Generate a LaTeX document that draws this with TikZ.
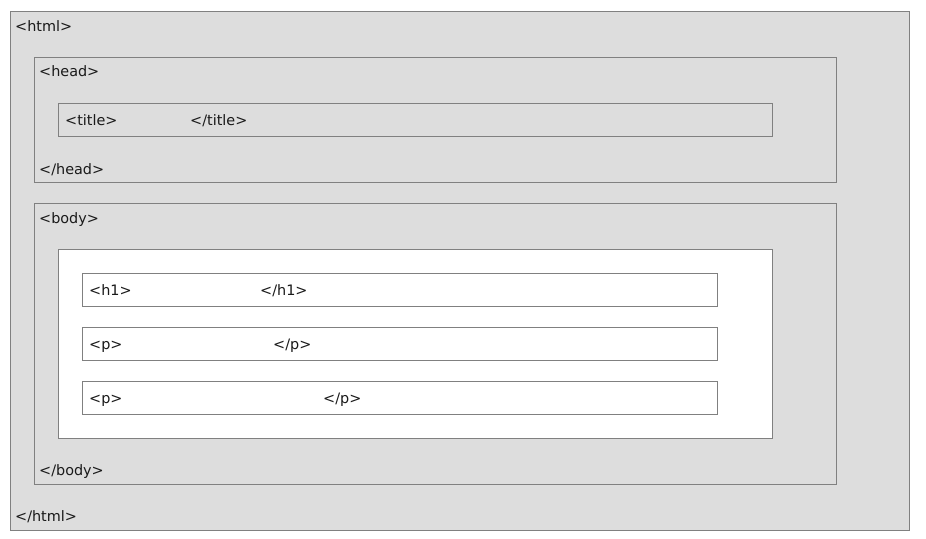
\documentclass[tikz,border=0pt]{standalone}
\usepackage{fontspec}
\setmainfont{DejaVu Sans}
\definecolor{tagfill}{HTML}{DDDDDD}
\definecolor{tagline}{HTML}{808080}
\definecolor{tagtext}{HTML}{1A1A1A}
\tikzset{
  tagbox/.style={draw=tagline, line width=1pt, fill=tagfill},
  innerbox/.style={draw=tagline, line width=1pt, fill=white},
  tag/.style={anchor=base west, inner sep=0pt, text=tagtext, font=\fontsize{14.4}{17}\selectfont}
}
\begin{document}
\begin{tikzpicture}[x=1pt, y=-1pt]

 \useasboundingbox (0,0) rectangle (926,538);

 % nested element boxes
 \draw[tagbox] (10.5,11) rectangle (909.5,530);
 \draw[tagbox] (34.5,57) rectangle (836.5,182);
 \draw[tagbox] (58.5,103) rectangle (772.5,136);
 \draw[tagbox] (34.5,203) rectangle (836.5,484);
 \draw[innerbox] (58.5,249) rectangle (772.5,438);
 \foreach \t in {273,327,381}{%
   \draw[innerbox] (82.5,\t) rectangle (717.5,\t+33);
 }

 % tags
 \node[tag] (htmlo) at (15,31) {<html>};
 \node[tag] (heado) at (39,76) {<head>};
 \node[tag] (titleo) at (65,125) {<title>};
 \node[tag] (titlec) at (190,125) {</title>};
 \node[tag] (headc) at (39,174) {</head>};
 \node[tag] (bodyo) at (39,223) {<body>};
 \node[tag] (hao) at (89,295) {<h1>};
 \node[tag] (hac) at (260,295) {</h1>};
 \node[tag] (pao) at (89,349) {<p>};
 \node[tag] (pac) at (273,349) {</p>};
 \node[tag] (pbo) at (89,403) {<p>};
 \node[tag] (pbc) at (323,403) {</p>};
 \node[tag] (bodyc) at (39,475) {</body>};
 \node[tag] (htmlc) at (15,521) {</html>};

\end{tikzpicture}
\end{document}
